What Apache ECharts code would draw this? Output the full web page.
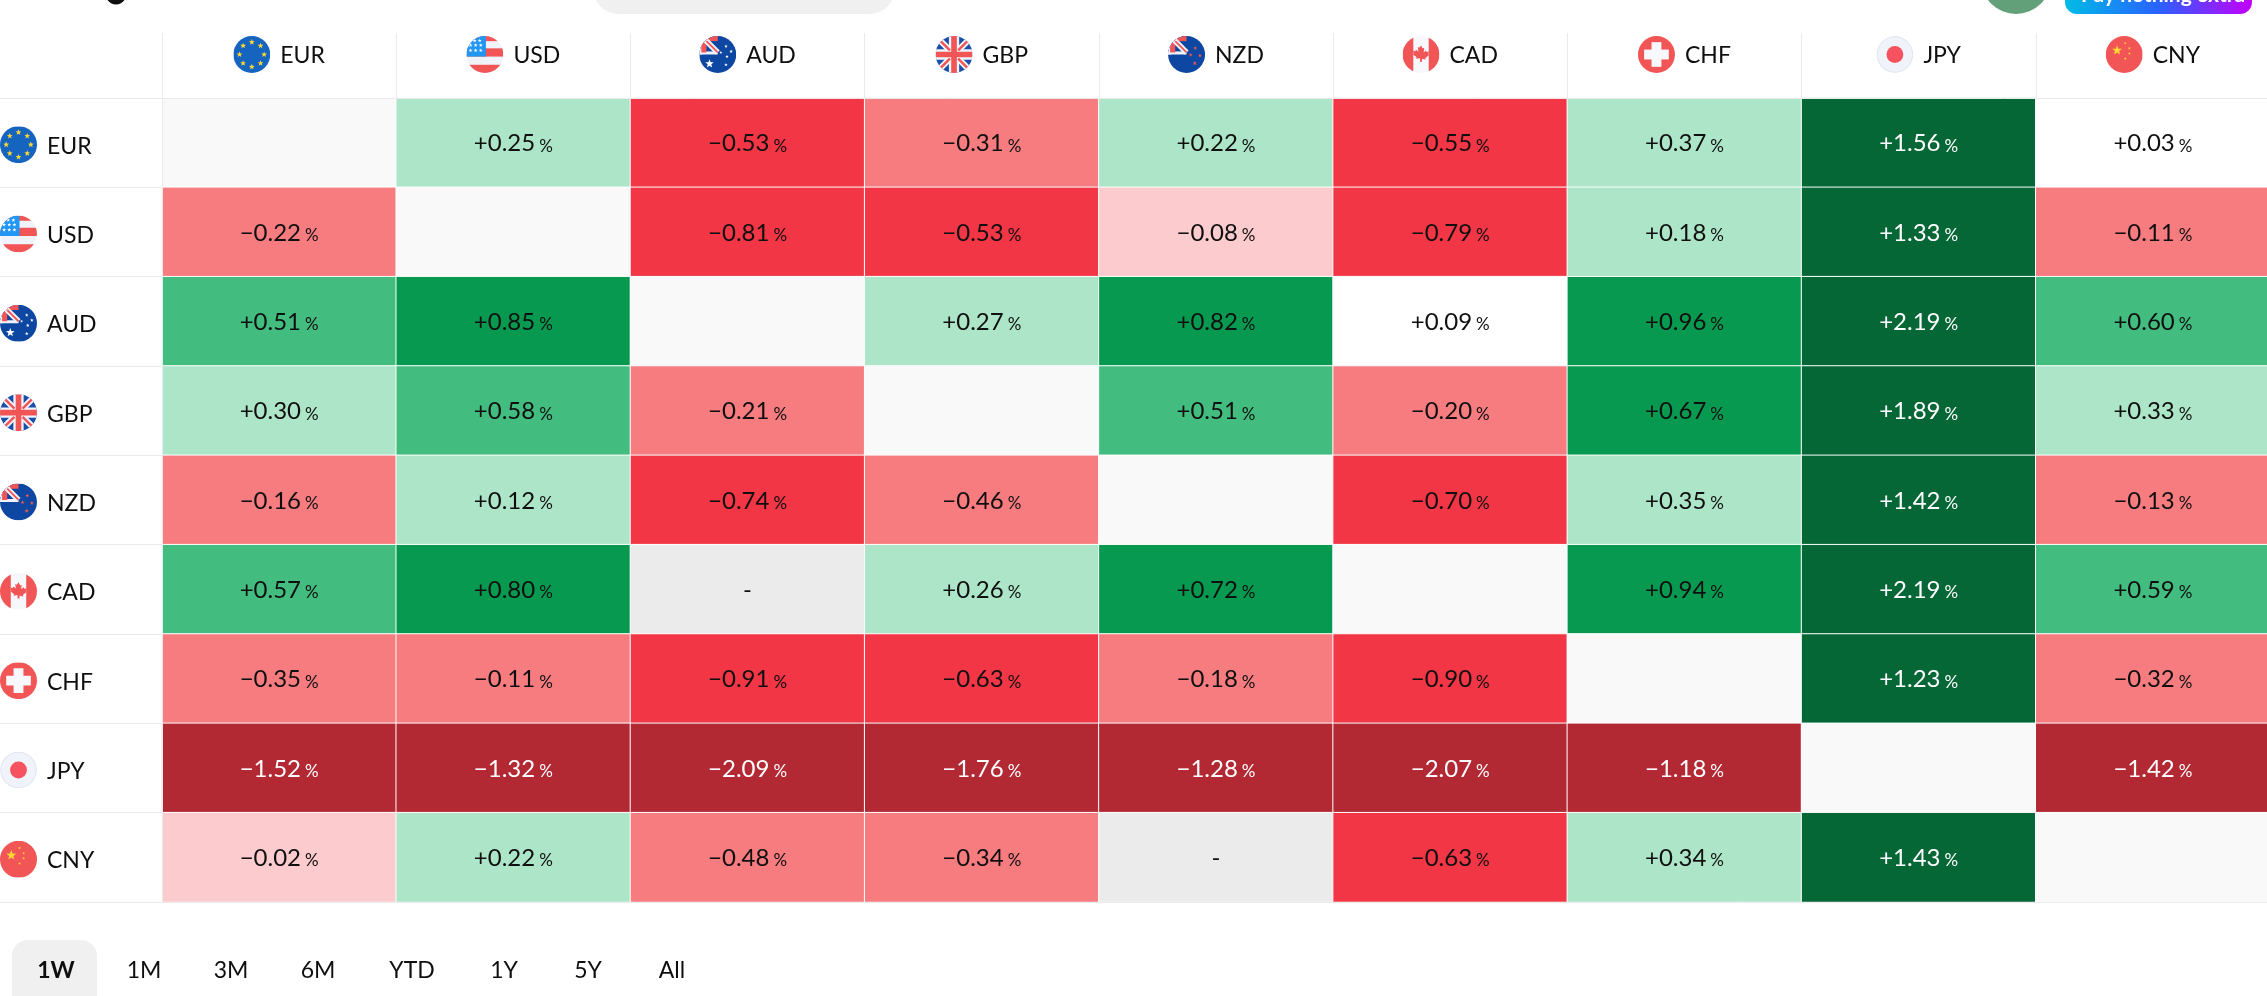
<!DOCTYPE html>
<html><head><meta charset="utf-8">
<style>html,body{margin:0;padding:0;background:#fff;overflow:hidden}#c{width:2267px;height:996px}</style>
<script src="https://cdn.jsdelivr.net/npm/echarts@6/dist/echarts.min.js"></script>
</head><body><div id="c"></div>
<script>
const currencies = ['EUR','USD','AUD','GBP','NZD','CAD','CHF','JPY','CNY'];
const tabs = ['1W','1M','3M','6M','YTD','1Y','5Y','All'];
const buttonText = 'Pay nothing extra';
// rows: base currency; null = same currency, '-' = no quote
const rowEUR = [null, 0.25, -0.53, -0.31, 0.22, -0.55, 0.37, 1.56, 0.03];
const rowUSD = [-0.22, null, -0.81, -0.53, -0.08, -0.79, 0.18, 1.33, -0.11];
const rowAUD = [0.51, 0.85, null, 0.27, 0.82, 0.09, 0.96, 2.19, 0.60];
const rowGBP = [0.30, 0.58, -0.21, null, 0.51, -0.20, 0.67, 1.89, 0.33];
const rowNZD = [-0.16, 0.12, -0.74, -0.46, null, -0.70, 0.35, 1.42, -0.13];
const rowCAD = [0.57, 0.80, '-', 0.26, 0.72, null, 0.94, 2.19, 0.59];
const rowCHF = [-0.35, -0.11, -0.91, -0.63, -0.18, -0.90, null, 1.23, -0.32];
const rowJPY = [-1.52, -1.32, -2.09, -1.76, -1.28, -2.07, -1.18, null, -1.42];
const rowCNY = [-0.02, 0.22, -0.48, -0.34, '-', -0.63, 0.34, 1.43, null];
const rows = [rowEUR,rowUSD,rowAUD,rowGBP,rowNZD,rowCAD,rowCHF,rowJPY,rowCNY];

const FONT = 'Lato, "Open Sans", sans-serif';
const INK = '#0F0F0F';

function colourOf(v){
  if (v === null) return '#F9F9F9';
  if (v === '-') return '#EBEBEB';
  if (v <= -1) return '#B22833';
  if (v <= -0.5) return '#F23645';
  if (v <= -0.1) return '#F77C80';
  if (v < 0) return '#FCCBCD';
  if (v < 0.1) return '#FFFFFF';
  if (v < 0.5) return '#ACE5C8';
  if (v <= 0.6) return '#42BD7F';
  if (v < 1) return '#089950';
  return '#056636';
}
function textOf(v){
  if (v === null) return '';
  if (v === '-') return '{v|-}';
  const s = (v < 0 ? '\u2212' : '+') + Math.abs(v).toFixed(2);
  return '{v|' + s + '}{g|}{p|%}';
}
const seriesData = [];
rows.forEach((row, r) => row.forEach((v, c) => {
  const dark = typeof v === 'number' && Math.abs(v) >= 1;
  seriesData.push({
    value: [c, r, typeof v === 'number' ? v : 0],
    itemStyle: { color: colourOf(v) },
    label: { formatter: textOf(v), color: dark ? '#FFFFFF' : INK }
  });
}));

// flags
function clipFlag(body){
  const svg = '<svg xmlns="http://www.w3.org/2000/svg" width="148" height="148" viewBox="0 0 36 36"><defs><clipPath id="k"><circle cx="18" cy="18" r="18"/></clipPath></defs><g clip-path="url(#k)">' + body + '</g></svg>';
  return 'data:image/svg+xml;charset=utf-8,' + encodeURIComponent(svg);
}
function star(cx, cy, r, fill){
  let p = [];
  for (let i = 0; i < 10; i++){
    const a = -Math.PI/2 + i*Math.PI/5, q = i%2 ? r*0.42 : r;
    p.push((cx+q*Math.cos(a)).toFixed(2)+','+(cy+q*Math.sin(a)).toFixed(2));
  }
  return '<polygon points="'+p.join(' ')+'" fill="'+fill+'"/>';
}
const ukCanton =
  '<rect width="18" height="18" fill="#0D47A1"/>'+
  '<rect y="15" width="18" height="3" fill="#F0F3FA"/><rect x="0" width="3" height="18" fill="#F0F3FA"/>'+
  '<rect width="18" height="5" fill="#F25555"/><rect x="2" width="5" height="16" fill="#F25555"/>'+
  '<path d="M5 3L18 16" stroke="#F0F3FA" stroke-width="5.5"/>'+
  '<path d="M7 5L18 16" stroke="#F25555" stroke-width="1.8"/>';
let eurStars = '';
for (let i = 0; i < 8; i++){
  const a = -Math.PI/2 + i*Math.PI/4;
  eurStars += star(18+12*Math.cos(a), 18+12*Math.sin(a), 3, '#FDD835');
}
let usStars = '';
[[8,4.5],[13,4.5],[4,9],[9,9],[14,9],[4,14],[9,14],[14,14]].forEach(p=>{usStars += star(p[0],p[1],2,'#FFFFFF');});
const flagSvg = {
  EUR: '<rect width="36" height="36" fill="#1565C0"/>' + eurStars,
  USD: '<rect width="36" height="36" fill="#F0F3FA"/><rect y="0" width="36" height="5" fill="#F25555"/><rect y="12" width="36" height="8" fill="#F25555"/><rect y="28" width="36" height="8" fill="#F25555"/><rect width="19" height="20" fill="#2196F3"/>' + usStars,
  AUD: '<rect width="36" height="36" fill="#0D47A1"/>' + ukCanton + star(10,27,4.4,'#FFFFFF') + star(26,10,1.8,'#FFFFFF') + star(31,15,1.8,'#FFFFFF') + star(21,16,1.6,'#FFFFFF') + star(27,20,1.8,'#FFFFFF') + star(26,28,1.8,'#FFFFFF'),
  GBP: '<rect width="36" height="36" fill="#1A4EA8"/><path d="M0 0L36 36M36 0L0 36" stroke="#F0F3FA" stroke-width="6"/><path d="M18 0V36M0 18H36" stroke="#F0F3FA" stroke-width="10"/><path d="M18 0V36M0 18H36" stroke="#F25555" stroke-width="5.5"/><path d="M0 0L14 14M36 36L22 22M36 0L22 14M0 36L14 22" stroke="#F25555" stroke-width="2.4"/>',
  NZD: '<rect width="36" height="36" fill="#0D47A1"/>' + ukCanton + star(26.5,11.8,2,'#F25555') + star(31,19,2,'#F25555') + star(22,18.4,2,'#F25555') + star(26,26.5,2.2,'#F25555'),
  CAD: '<rect width="36" height="36" fill="#F7F8FC"/><rect width="10.5" height="36" fill="#F25555"/><rect x="25.5" width="10.5" height="36" fill="#F25555"/><path d="M18 7l2.2 4 2-1-0.8 6 3-2.6 1 2 3-0.5-1 3.6 1.3 0.8-5 4 0.6 2-5-0.8V28h-2.6v-4.5l-5 0.8 0.6-2-5-4 1.3-0.8-1-3.6 3 0.5 1-2 3 2.6-0.8-6 2 1z" fill="#F25555" transform="translate(4.5 4) scale(0.75)"/>',
  CHF: '<rect width="36" height="36" fill="#F25555"/><rect x="6" y="13.2" width="24" height="9.6" fill="#F7F8FC"/><rect x="13.2" y="6" width="9.6" height="24" fill="#F7F8FC"/>',
  JPY: '<circle cx="18" cy="18" r="18" fill="#E1E5F0"/><circle cx="18" cy="18" r="16.8" fill="#F0F3FA"/><circle cx="18" cy="18" r="8.2" fill="#F7525F"/>',
  CNY: '<rect width="36" height="36" fill="#F25555"/>' + star(11,14,5,'#FDD835') + star(19,7,1.5,'#FDD835') + star(23,12,1.5,'#FDD835') + star(23,17,1.5,'#FDD835') + star(19,22,1.5,'#FDD835')
};
const richFlags = {};
currencies.forEach(c => {
  richFlags['f'+c] = { width: 37, height: 37, backgroundColor: { image: clipFlag(flagSvg[c]) } };
});
const labelText = { fontFamily: FONT, fontSize: 23, color: INK, lineHeight: 33, verticalAlign:'middle', padding:[3,0,0,0] };
const axisRich = Object.assign({ gap: { width: 10, height: 37 }, t: labelText }, richFlags);
const flagLabel = c => '{f'+c+'|}{gap|}{t|'+c+'}';

const GRAY = '#EBEBEB';
const tabX = [56,144,231,318,412,504,588,672];
const graphics = [
  { type:'ellipse', shape:{cx:116,cy:-5,rx:10,ry:9.5}, style:{fill:'#0F0F0F'} },
  { type:'rect', shape:{x:593,y:-40,width:302,height:54,r:26}, style:{fill:'#F0F0F0'} },
  { type:'circle', shape:{cx:2016,cy:-21,r:35}, style:{fill:'#62A07A'} },
  { type:'rect', shape:{x:2065,y:-40,width:187,height:54,r:12},
    style:{fill:new echarts.graphic.LinearGradient(0,0,1,0,[{offset:0,color:'#00BCE5'},{offset:0.5,color:'#2962FF'},{offset:1,color:'#C400FF'}])} },
  { type:'text', x:2163, y:-5, style:{text:buttonText, fontFamily:FONT, fontSize:21, fontWeight:'bold', fill:'#FFFFFF', textAlign:'center', textVerticalAlign:'middle'} },
  { type:'rect', shape:{x:12,y:940,width:85,height:90,r:16}, style:{fill:'#F0F0F0'} }
];
tabs.forEach((t,i)=>graphics.push({ type:'text', x:tabX[i], y:971,
  style:{text:t, fontFamily:FONT, fontSize:23, fontWeight:i===0?'bold':'normal', fill:INK, textAlign:'center', textVerticalAlign:'middle'} }));

const chart = echarts.init(document.getElementById('c'), null, {renderer:'canvas', width:2267, height:996});
chart.setOption({
  animation:false,
  backgroundColor:'#FFFFFF',
  tooltip:{show:false},
  graphic:graphics,
  grid:{left:162, top:98, width:2108, height:804, containLabel:false, outerBoundsMode:'none'},
  xAxis:[{
    type:'category', position:'top', data:currencies, z:5,
    axisLine:{show:true,lineStyle:{color:GRAY,width:1}},
    axisTick:{show:true,length:65,lineStyle:{color:GRAY,width:1}},
    axisLabel:{margin:25, interval:0, formatter:flagLabel, rich:axisRich, fontFamily:FONT, fontSize:23, color:INK},
    splitLine:{show:false}
  },{
    type:'category', position:'bottom', data:currencies, z:5,
    axisLine:{show:true,lineStyle:{color:GRAY,width:1}},
    axisTick:{show:false}, axisLabel:{show:false}, splitLine:{show:false}
  }],
  yAxis:{
    type:'category', inverse:true, data:currencies, z:5,
    axisLine:{show:true,lineStyle:{color:GRAY,width:1}},
    axisTick:{show:true,length:162,lineStyle:{color:GRAY,width:1}},
    axisLabel:{margin:162, align:'left', interval:0, padding:[4,0,0,0], formatter:flagLabel, rich:axisRich, fontFamily:FONT, fontSize:23, color:INK},
    splitLine:{show:false}
  },
  series:[{
    type:'heatmap', xAxisIndex:0, yAxisIndex:0, data:seriesData, emphasis:{disabled:true},
    itemStyle:{borderColor:'#FFFFFF',borderWidth:1},
    label:{show:true, position:'inside', align:'center', verticalAlign:'middle', fontFamily:FONT, offset:[0,1],
      rich:{
        v:{fontFamily:FONT,fontSize:24,lineHeight:24,verticalAlign:'middle'},
        g:{width:4},
        p:{fontFamily:FONT,fontSize:17,lineHeight:24,verticalAlign:'middle',padding:[5,0,0,0]}
      }
    }
  }]
});
</script></body></html>
